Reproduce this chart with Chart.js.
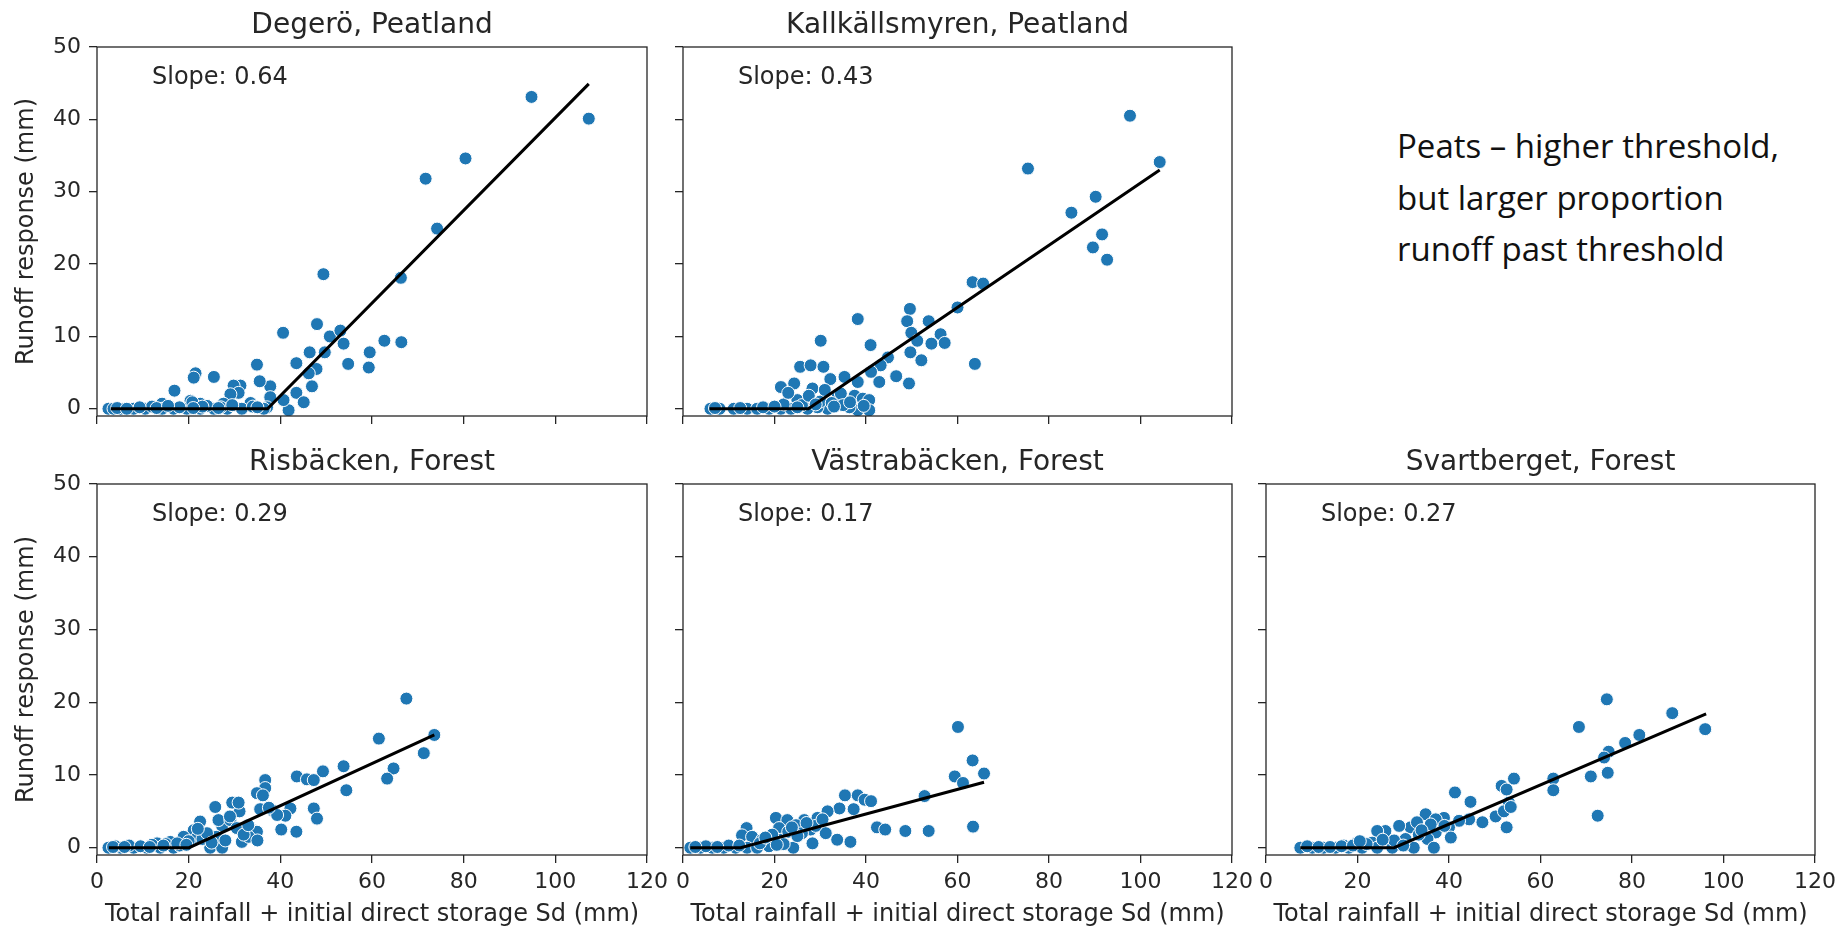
<!DOCTYPE html>
<html>
<head>
<meta charset="utf-8">
<script src="https://cdn.jsdelivr.net/npm/chart.js@4.4.1/dist/chart.umd.min.js"></script>
<style>
  body { margin: 0; background: #fff; width: 1844px; height: 929px; overflow: hidden; position: relative; }
  canvas { position: absolute; }
  #note {
    position: absolute; left: 1397px; top: 120px;
    font-family: "Open Sans", sans-serif; font-size: 33px; line-height: 51.5px;
    color: #111; white-space: nowrap;
  }
</style>
</head>
<body>
<div id="note">Peats – higher threshold,<br>but larger proportion<br>runoff past threshold</div>
<script>
// axis ticks shared by every panel
const xTicks = [0, 20, 40, 60, 80, 100, 120];
const yTicks = [0, 10, 20, 30, 40, 50];

// Degerö, Peatland
const degeroX = [94.8, 107.3, 80.4, 71.7, 74.2, 66.3, 49.4, 62.7, 66.4,
  40.6, 48, 50.8, 53.1, 53.8, 49.7, 46.4, 59.5, 59.3, 54.8, 43.5, 47.9, 46.2, 46.9, 43.5, 45.1, 41.8, 40.7,
  37.8, 37.8, 37.1, 34.9, 35.5, 31.3, 29.8, 30.9, 29.1, 33.5, 27.6, 25.5, 21.5, 21.1, 16.9, 20.4, 22.5, 14.2, 31.6,
  2.5, 3.6, 5.1, 8, 10.5, 14.2, 16.7, 19.6, 22.5, 25.5, 28.4, 31.6, 36.4, 12, 18, 24, 27, 34, 20.8, 23,
  4.4, 6.5, 9.3, 13, 15.5, 21, 26.5, 29.5, 35];
const degeroY = [43.1, 40.1, 34.6, 31.8, 24.9, 18.1, 18.6, 9.4, 9.2,
  10.5, 11.7, 10, 10.8, 9.0, 7.8, 7.8, 7.8, 5.7, 6.2, 6.3, 5.5, 4.9, 3.1, 2.2, 0.9, -0.2, 1.2,
  3.1, 1.6, 0.2, 6.1, 3.8, 3.2, 3.2, 2.2, 2.0, 0.8, 0.7, 4.4, 4.9, 4.3, 2.5, 1.1, 0.7, 0.7, 0,
  0, 0, 0, 0, 0, 0, 0, 0, 0, 0, 0, 0, 0, 0.3, 0.2, 0.4, 0.2, 0.3, 0.9, 0.3,
  0.1, 0, 0.2, 0.1, 0.4, 0.1, 0.1, 0.5, 0.2];
const degeroFitX = [3, 37.2, 107.3];
const degeroFitY = [0, 0, 44.9];

// Kallkällsmyren, Peatland
const kallX = [97.7, 104.2, 75.4, 84.9, 90.2, 91.6, 89.6, 92.7,
  63.3, 65.6, 60, 49.6, 38.2, 49, 53.7, 49.9, 56.3, 30.1, 41, 51.2, 54.3, 57.2, 49.7, 52.1, 63.8, 44.8, 43.2,
  46.6, 42.9, 49.4, 25.6, 27.9, 30.7, 21.4, 24.3, 32.2, 35.3, 38.2, 41.1, 28.3, 25, 33.8, 37.5, 39.3, 40.7,
  31.6, 38.2, 40.7, 36.4, 29.4, 34.5,
  6, 8, 11.1, 14, 16.2, 18.8, 21.4, 23.6, 27.2, 26, 30, 32.5, 35, 27.5, 22,
  7, 12.5, 17.5, 20, 25, 29, 33, 36.5, 39.5, 23, 31];
const kallY = [40.5, 34.1, 33.2, 27.1, 29.3, 24.1, 22.3, 20.6,
  17.5, 17.3, 14, 13.8, 12.4, 12.1, 12.1, 10.5, 10.3, 9.4, 8.8, 9.4, 9.0, 9.1, 7.8, 6.7, 6.2, 7.1, 6.0,
  4.5, 3.7, 3.5, 5.8, 6.0, 5.8, 3.0, 3.5, 4.1, 4.4, 3.7, 5.1, 2.8, 1.2, 1.6, 1.8, 1.4, 1.2,
  0, -0.2, -0.2, 0.2, 0.2, 2.1,
  0, 0, 0, 0, 0, 0, 0, 0, 0, 0.5, 1, 0.8, 0.5, 1.8, 0.6,
  0.1, 0.1, 0.2, 0.3, 0.2, 0.6, 0.3, 0.9, 0.4, 2.2, 2.6];
const kallFitX = [5.8, 27.4, 104.2];
const kallFitY = [0, 0, 33.0];

// Risbäcken, Forest
const risX = [67.5, 73.6, 61.5, 71.3,
  64.7, 63.3, 53.8, 54.4, 49.3, 43.6, 45.8, 47.3, 36.7, 36.7, 34.9, 36.2, 47.3, 48, 42.2, 41.1, 38.4, 40.2,
  43.5, 35.6, 31.1, 29.5, 30.9, 25.8, 33.8, 34.9, 31.6, 33.1, 27.3, 26.5, 22.5, 21.1, 21.7, 18.9, 24.7, 27.3,
  29.1, 30.5, 39.3, 16, 13.1,
  2.5, 5.1, 8, 10.9, 13.8, 16.7, 4, 7, 12, 15, 18, 20, 23, 26, 28, 32, 35,
  3.5, 6, 9.5, 11.5, 14.5, 17.5, 19.5, 24, 29, 33, 37.5, 25, 22];
const risY = [20.5, 15.5, 15.0, 13.0,
  10.9, 9.5, 11.2, 7.9, 10.5, 9.8, 9.4, 9.3, 9.3, 8.2, 7.5, 7.2, 5.4, 4.0, 5.4, 4.4, 5.1, 2.5,
  2.2, 5.3, 5.0, 6.2, 6.2, 5.6, 2.5, 2.2, 0.8, 1.5, 3.0, 3.8, 3.6, 2.4, 1.3, 1.5, 0, 0,
  3.8, 2.7, 4.5, 0.8, 0.6,
  0, 0, 0, 0, 0, 0, 0.2, 0.3, 0.4, 0.5, 0.3, 0.9, 1.2, 1.5, 1.0, 1.8, 1.0,
  0.1, 0.1, 0.2, 0.1, 0.3, 0.6, 0.4, 2.0, 4.3, 3.1, 5.5, 0.7, 2.6];
const risFitX = [2.6, 20.1, 73.6];
const risFitY = [0, 0, 15.5];

// Västrabäcken, Forest
const vastraX = [60.1, 63.3, 65.8, 59.4, 61.2,
  52.8, 35.4, 38.2, 39.7, 41.1, 34.2, 37.3, 31.6, 29.4, 26.5, 20.3, 22.8, 24.7, 21, 27.9, 31.2, 33.7, 36.6,
  42.4, 44.2, 48.6, 53.7, 63.4, 13.9, 12.9, 15.1, 18.8, 24.1, 28.3, 21.4, 17.3,
  1.6, 3.8, 6.4, 8.9, 11.5, 14, 16.2, 5, 10, 19.5, 23, 26, 29, 22,
  2.7, 7.5, 12.3, 16.8, 18, 25, 27, 30.5, 20.5, 23.8];
const vastraY = [16.6, 12.0, 10.2, 9.8, 8.9,
  7.1, 7.2, 7.2, 6.6, 6.4, 5.4, 5.3, 5.0, 4.1, 3.8, 4.1, 3.8, 3.1, 2.7, 2.5, 2.0, 1.1, 0.8,
  2.8, 2.5, 2.3, 2.3, 2.9, 2.7, 1.7, 1.5, 0.2, 0, 0.6, 1.1, 1.1,
  0, 0, 0, 0, 0, 0, 0, 0.2, 0.3, 1.8, 2.2, 2.0, 3.0, 0.5,
  0.1, 0.1, 0.3, 0.6, 1.4, 1.6, 3.4, 3.9, 0.4, 2.8];
const vastraFitX = [1.6, 12.6, 65.8];
const vastraFitY = [0, 0, 9.0];

// Svartberget, Forest
const svartX = [74.5, 88.8, 96.0, 68.4, 81.6, 78.5, 74.9, 73.9, 74.7, 71.0, 62.8, 62.8, 72.5,
  54.2, 51.5, 52.6, 53.1, 41.3, 44.7, 50.2, 47.3, 44.4, 52.6, 42.2, 38.9, 34.9, 37.1, 40, 40.4, 37.1, 35.3,
  36.7, 32.3, 31.6, 29.1, 26.1, 24.3, 30.5, 33.4, 23.2, 19.9,
  7.5, 10.1, 12.6, 15.2, 18.1, 21, 24.3, 27.6, 9, 17, 22, 28, 33, 36, 39,
  11.5, 14, 16.5, 19, 20.5, 25.5, 30, 34, 52, 53.5];
const svartY = [20.4, 18.5, 16.3, 16.6, 15.5, 14.4, 13.2, 12.4, 10.3, 9.8, 9.5, 7.9, 4.4,
  9.5, 8.5, 8.0, 6.2, 7.6, 6.3, 4.3, 3.5, 3.9, 2.8, 3.7, 4.1, 4.6, 3.9, 2.8, 1.4, 2.1, 1.2,
  0, 0, 2.8, 3.0, 2.3, 2.3, 1.2, 1.8, 0.7, 0.7,
  0, 0, 0, 0, 0, 0, 0, 0, 0.2, 0.3, 0.5, 1.0, 3.5, 3.2, 3.0,
  0.1, 0.1, 0.2, 0.3, 0.9, 1.1, 0.3, 2.4, 5.0, 5.6];
const svartFitX = [7.5, 28.0, 96.2];
const svartFitY = [0, 0, 18.4];

const pair = (xs, ys) => xs.map((x, i) => ({ x: x, y: ys[i] }));

// plot boxes on the page (left, top, width, height of the axes area)
const panels = [
  { title: "Degerö, Peatland", slope: "0.64", xs: degeroX, ys: degeroY, fx: degeroFitX, fy: degeroFitY,
    box: [97, 47, 550, 369], yLabels: true, xLabels: false },
  { title: "Kallkällsmyren, Peatland", slope: "0.43", xs: kallX, ys: kallY, fx: kallFitX, fy: kallFitY,
    box: [683, 47, 549, 369], yLabels: false, xLabels: false },
  { title: "Risbäcken, Forest", slope: "0.29", xs: risX, ys: risY, fx: risFitX, fy: risFitY,
    box: [97, 484, 550, 371], yLabels: true, xLabels: true },
  { title: "Västrabäcken, Forest", slope: "0.17", xs: vastraX, ys: vastraY, fx: vastraFitX, fy: vastraFitY,
    box: [683, 484, 549, 371], yLabels: false, xLabels: true },
  { title: "Svartberget, Forest", slope: "0.27", xs: svartX, ys: svartY, fx: svartFitX, fy: svartFitY,
    box: [1266, 484, 549, 371], yLabels: false, xLabels: true },
];

const L = 90, R = 30, T = 50, B = 75;
const FONT = "DejaVu Sans";
const INK = "#262626";

const panelText = {
  id: "panelText",
  afterDraw(chart, args, opts) {
    const { ctx, chartArea: a } = chart;
    ctx.save();
    ctx.strokeStyle = INK;
    ctx.lineWidth = 1.3;
    ctx.strokeRect(a.left, a.top, a.right - a.left, a.bottom - a.top);
    ctx.fillStyle = INK;
    ctx.textBaseline = "alphabetic";
    ctx.font = "28px '" + FONT + "'";
    ctx.textAlign = "center";
    ctx.fillText(opts.title, (a.left + a.right) / 2, a.top - 14);
    ctx.font = "24px '" + FONT + "'";
    ctx.textAlign = "left";
    ctx.fillText("Slope: " + opts.slope, a.left + 0.1 * (a.right - a.left), a.bottom - 0.9 * (a.bottom - a.top));
    if (opts.xLabels) {
      ctx.textAlign = "center";
      ctx.fillText("Total rainfall + initial direct storage Sd (mm)", (a.left + a.right) / 2, a.bottom + 66);
    }
    if (opts.yLabels) {
      ctx.translate(a.left - 70, (a.top + a.bottom) / 2);
      ctx.rotate(-Math.PI / 2);
      ctx.textAlign = "center";
      ctx.textBaseline = "middle";
      ctx.fillText("Runoff response (mm)", 0, 0);
    }
    ctx.restore();
  }
};

panels.forEach((p) => {
  const [bx, by, bw, bh] = p.box;
  const canvas = document.createElement("canvas");
  canvas.width = L + bw + R;
  canvas.height = T + bh + B;
  canvas.style.left = (bx - L) + "px";
  canvas.style.top = (by - T) + "px";
  document.body.appendChild(canvas);

  const axisGrid = { drawOnChartArea: false, drawTicks: true, tickLength: 8, color: INK, lineWidth: 1.3 };

  new Chart(canvas.getContext("2d"), {
    type: "scatter",
    data: {
      datasets: [
        {
          type: "line",
          data: pair(p.fx, p.fy),
          borderColor: "#000",
          borderWidth: 3,
          pointRadius: 0,
          fill: false,
          tension: 0,
          order: 0,
        },
        {
          data: pair(p.xs, p.ys),
          backgroundColor: "#1f77b4",
          borderColor: "#ffffff",
          borderWidth: 1,
          pointRadius: 6.5,
          order: 1,
        },
      ],
    },
    options: {
      responsive: false,
      animation: false,
      layout: { padding: { left: 0, right: R, top: T, bottom: 0 } },
      plugins: {
        legend: { display: false },
        tooltip: { enabled: false },
        panelText: { title: p.title, slope: p.slope, xLabels: p.xLabels, yLabels: p.yLabels },
      },
      scales: {
        x: {
          type: "linear",
          min: 0,
          max: 120,
          afterBuildTicks: (s) => { s.ticks = xTicks.map((v) => ({ value: v })); },
          afterFit: (s) => { s.height = B; },
          grid: axisGrid,
          border: { display: false },
          ticks: {
            color: INK,
            font: { family: FONT, size: 22 },
            padding: 6,
            maxRotation: 0,
            autoSkip: false,
            callback: (v) => (p.xLabels ? v : ""),
          },
        },
        y: {
          type: "linear",
          min: -1,
          max: 50,
          afterBuildTicks: (s) => { s.ticks = yTicks.map((v) => ({ value: v })); },
          afterFit: (s) => { s.width = L; },
          grid: axisGrid,
          border: { display: false },
          ticks: {
            color: INK,
            font: { family: FONT, size: 22 },
            padding: 8,
            callback: (v) => (p.yLabels ? v : ""),
          },
        },
      },
    },
    plugins: [panelText],
  });
});
</script>
</body>
</html>
